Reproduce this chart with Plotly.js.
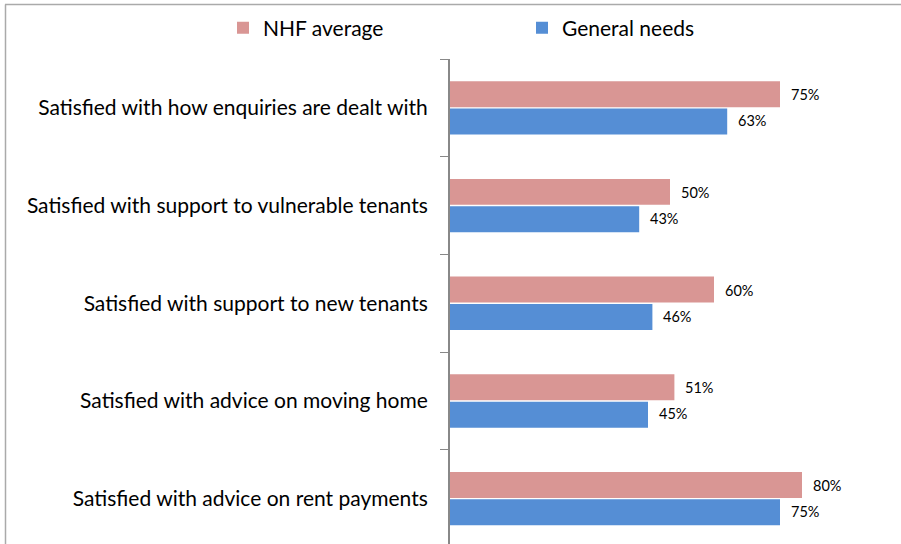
<!DOCTYPE html>
<html>
<head>
<meta charset="utf-8">
<script src="https://cdn.plot.ly/plotly-3.0.1.min.js"></script>
<style>
html,body{margin:0;padding:0;background:#fff;}
#chart{width:901px;height:544px;}
</style>
</head>
<body>
<div id="chart"></div>
<script>
var categories = [
  "Satisfied with how enquiries are dealt with",
  "Satisfied with support to vulnerable tenants",
  "Satisfied with support to new tenants",
  "Satisfied with advice on moving home",
  "Satisfied with advice on rent payments"
];
var nhfAverage = [75, 50, 60, 51, 80];
var generalNeeds = [63, 43, 46, 45, 75];
var seriesNames = ["NHF average", "General needs"];
var seriesColors = ["#D99694", "#558ED5"];

var FONT = "Lato, 'Open Sans', sans-serif";

function pct(v){ return v + "%"; }

var traces = [
  {
    type: "bar", orientation: "h", name: seriesNames[0],
    y: categories, x: nhfAverage,
    marker: {color: seriesColors[0]}, hoverinfo: "x+y", legend: "legend"
  },
  {
    type: "bar", orientation: "h", name: seriesNames[1],
    y: categories, x: generalNeeds,
    marker: {color: seriesColors[1]}, hoverinfo: "x+y", legend: "legend2"
  }
];

var annotations = [];
[nhfAverage, generalNeeds].forEach(function(series, s){
  series.forEach(function(v, i){
    annotations.push({
      xref: "x", yref: "y", x: v, y: categories[i],
      text: pct(v), showarrow: false, xanchor: "left", yanchor: "middle",
      xshift: 9, yshift: s === 0 ? 13 : -13,
      font: {family: FONT, size: 14.5, color: "#000"}
    });
  });
});

var legendBase = {
  orientation: "h", xref: "container", yref: "container",
  yanchor: "middle", y: 1 - 28 / 544, xanchor: "left",
  font: {family: FONT, size: 21, color: "#000"},
  bgcolor: "rgba(0,0,0,0)", itemwidth: 30
};

var layout = {
  width: 901, height: 544,
  margin: {l: 450, r: 11, t: 59, b: 0},
  paper_bgcolor: "#fff", plot_bgcolor: "#fff",
  font: {family: FONT, size: 21, color: "#000"},
  barmode: "group", bargap: 0.44, bargroupgap: 0.05,
  showlegend: true,
  legend: Object.assign({}, legendBase, {x: 223 / 901}),
  legend2: Object.assign({}, legendBase, {x: 522 / 901}),
  annotations: annotations,
  xaxis: {range: [0, 100], showgrid: false, zeroline: false, showline: false,
          showticklabels: false, ticks: "", fixedrange: true},
  yaxis: {type: "category", range: [4.464, -0.5], showgrid: false, zeroline: false,
          showline: true, linecolor: "#888", linewidth: 2,
          ticks: "outside", tickson: "boundaries", ticklen: 8, tickcolor: "#888", tickwidth: 1,
          ticklabelstandoff: 16,
          tickfont: {family: FONT, size: 21, color: "#000"}, fixedrange: true},
  shapes: [
    {type: "line", xref: "paper", yref: "paper", x0: (5 - 450) / 440, x1: (901 - 450) / 440,
     y0: 1 + (59 - 4.5) / 485, y1: 1 + (59 - 4.5) / 485, line: {color: "#aaa", width: 1.5}},
    {type: "line", xref: "paper", yref: "paper", x0: (5.5 - 450) / 440, x1: (5.5 - 450) / 440,
     y0: 1 + (59 - 4.5) / 485, y1: -0.1, line: {color: "#aaa", width: 1.5}}
  ]
};

Plotly.newPlot("chart", traces, layout, {displayModeBar: false, staticPlot: true});
</script>
</body>
</html>
